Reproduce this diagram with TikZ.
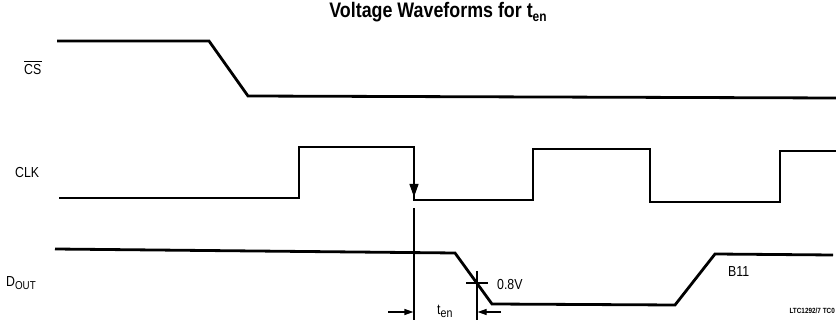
\documentclass[tikz,border=0pt]{standalone}
\usepackage{fontspec}
\setmainfont{Liberation Sans}[FakeStretch=0.85]
\usetikzlibrary{arrows.meta}
\newcommand\lowsub[2]{\raisebox{-0.35ex}{\fontsize{#1}{#1}\selectfont #2}}
\begin{document}
\begin{tikzpicture}[x=1pt,y=-1pt,
  wave/.style={line width=2.8pt, line join=miter, line cap=butt},
  guide/.style={line width=1.2pt},
  dimarrow/.style={line width=1.2pt,-{Triangle[length=9pt,width=6pt]}},
  lab/.style={font=\fontsize{14.5}{16}\selectfont, inner sep=0pt},
]
\useasboundingbox (0,0) rectangle (836,320);

% title
\node[font=\fontsize{21}{24}\selectfont\bfseries, anchor=base, inner sep=0pt] (title) at (438,18)
  {Voltage Waveforms for t\lowsub{14}{en}};

% signal labels
\node[lab, anchor=base west] (cs) at (24,75) {CS};
\draw[line width=0.9pt] ([yshift=3pt]cs.north west) -- ([yshift=3pt]cs.north east);
\node[lab, anchor=base west] (clk) at (15,178) {CLK};
\node[lab, anchor=base west] (dout) at (6,287) {D\lowsub{11.5}{OUT}};

% waveforms
\coordinate (cs0) at (57,41);
\coordinate (cs1) at (209,41);
\coordinate (cs2) at (248,96);
\coordinate (cs3) at (836,98);
\draw[wave] (cs0) -- (cs1) -- (cs2) -- (cs3);

\coordinate (k0) at (59,198);
\coordinate (kf) at (414,200);
\draw[wave] (k0) -- (299,198) -- (299,147) -- (414,147) -- (kf) -- (533,200) -- (533,149)
  -- (650,149) -- (650,202) -- (780,202) -- (780,151) -- (836,151);
\coordinate (ka) at (414,176);
\coordinate (kb) at (414,197);
\draw[line width=1.2pt, -{Triangle[length=13pt,width=9pt]}] (ka) -- (kb);

\coordinate (d0) at (55,249);
\coordinate (d1) at (455,253);
\coordinate (d2) at (492,304);
\coordinate (d3) at (675,305);
\coordinate (d4) at (715,254);
\coordinate (d5) at (833,255);
\draw[wave] (d0) -- (d1) -- (d2) -- (d3) -- (d4) -- (d5);

% timing guides
\coordinate (g1t) at (414,208);
\coordinate (g1b) at (414,320);
\draw[guide] (g1t) -- (g1b);
\coordinate (g2t) at (477,271);
\coordinate (g2b) at (477,320);
\draw[guide] (g2t) -- (g2b);
\coordinate (tl) at (466,283);
\coordinate (tr) at (488,283);
\draw[guide] (tl) -- (tr);

\coordinate (a1s) at (388,312);
\coordinate (a1e) at (413.4,312);
\draw[dimarrow] (a1s) -- (a1e);
\coordinate (a2s) at (501,312);
\coordinate (a2e) at (477.6,312);
\draw[dimarrow] (a2s) -- (a2e);

% labels
\node[lab, anchor=base west] (v08) at (497,290) {0.8V};
\node[lab, anchor=base west] (b11) at (728,277) {B11};
\node[lab, anchor=base west] (ten) at (437,315) {t\lowsub{12.5}{en}};
\node[font=\fontsize{7.5}{8}\selectfont\bfseries, anchor=base east, inner sep=0pt] (ltc) at (835,314) {LTC1292/7 TC0};
\end{tikzpicture}
\end{document}
